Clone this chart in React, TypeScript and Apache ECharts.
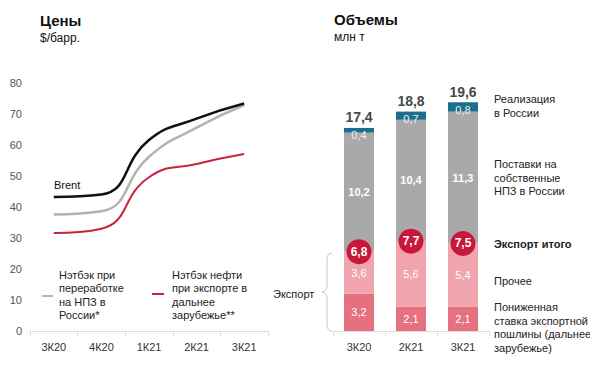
import React, { useEffect, useRef } from "react";
import * as echarts from "echarts";

const lineCategories = ["3К20", "4К20", "1К21", "2К21", "3К21"];
const brent = [43.2, 44.0, 61.6, 68.5, 73.4];
const netbackRefining = [37.6, 38.6, 56.2, 65.6, 72.9];
const netbackExport = [31.6, 33.0, 49.6, 53.9, 57.1];
const priceTicks = [0, 80, 10];

const barCategories = ["3К20", "2К21", "3К21"];
const reducedDuty = [3.2, 2.1, 2.1];
const otherExport = [3.6, 5.6, 5.4];
const ownRefineries = [10.2, 10.4, 11.3];
const domesticSales = [0.4, 0.7, 0.8];
const exportTotal = [6.8, 7.7, 7.5];
const volumeTotal = [17.4, 18.8, 19.6];

const FONT = "'Liberation Sans', Arial, sans-serif";
const fmt = (v: number) => v.toFixed(1).replace(".", ",");

let registered = false;
function registerBrace() {
  if (registered) return;
  registered = true;
  const d =
    "M10,0 C6,0 5,3 5,8 L5,32 C5,37 4,39 0,40 C4,41 5,43 5,48 L5,72 C5,77 6,80 10,80";
  echarts.graphic.registerShape("brace", echarts.graphic.extendPath(d, {}));
}

function txt(x: number, y: number, text: string, opts: any = {}) {
  return {
    type: "text",
    x,
    y,
    silent: true,
    style: {
      text,
      font: `${opts.bold ? "bold " : ""}${opts.size || 11}px ${FONT}`,
      fill: opts.color || "#222",
      lineHeight: opts.lh || 13.5,
      textAlign: opts.align || "left",
      textVerticalAlign: "top",
    },
  };
}

export default function App() {
  const ref = useRef<HTMLDivElement>(null);
  useEffect(() => {
    if (!ref.current) return;
    registerBrace();
    const chart = echarts.init(ref.current, null, { renderer: "svg" });
    const barLabel = (color: string, bold: boolean, pos: any = "inside", dist = 5) => ({
      show: true,
      position: pos,
      distance: dist,
      color,
      fontFamily: FONT,
      fontSize: 11,
      fontWeight: bold ? "bold" : "normal",
      formatter: (p: any) => fmt(p.value),
    });
    const option: any = {
      animation: false,
      textStyle: { fontFamily: FONT },
      grid: [
        { left: 30, top: 83, width: 238, height: 248 },
        { left: 333, top: 97.6, width: 156, height: 233.4 },
      ],
      xAxis: [
        {
          gridIndex: 0,
          type: "category",
          data: lineCategories,
          boundaryGap: true,
          axisLine: { lineStyle: { color: "#dddddd" } },
          axisTick: { show: true, lineStyle: { color: "#dddddd" } },
          axisLabel: { color: "#333", fontSize: 11, fontFamily: FONT, margin: 10 },
        },
        {
          gridIndex: 1,
          type: "category",
          data: barCategories,
          boundaryGap: true,
          axisLine: { lineStyle: { color: "#dddddd" } },
          axisTick: { show: true, lineStyle: { color: "#dddddd" } },
          axisLabel: { color: "#333", fontSize: 11, fontFamily: FONT, margin: 10 },
        },
      ],
      yAxis: [
        {
          gridIndex: 0,
          type: "value",
          min: priceTicks[0],
          max: priceTicks[1],
          interval: priceTicks[2],
          axisLine: { show: false },
          axisTick: { show: false },
          splitLine: { show: false },
          axisLabel: { color: "#555", fontSize: 11, fontFamily: FONT, margin: 8 },
        },
        {
          gridIndex: 1,
          type: "value",
          min: 0,
          max: 20,
          show: false,
          splitLine: { show: false },
        },
      ],
      series: [
        {
          type: "line",
          name: "Нэтбэк нефти при экспорте в дальнее зарубежье**",
          data: netbackExport,
          smooth: 0.5,
          symbol: "none",
          lineStyle: { color: "#c8233f", width: 2 },
        },
        {
          type: "line",
          name: "Нэтбэк при переработке на НПЗ в России*",
          data: netbackRefining,
          smooth: 0.5,
          symbol: "none",
          lineStyle: { color: "#b3b3b3", width: 2.5 },
        },
        {
          type: "line",
          name: "Brent",
          data: brent,
          smooth: 0.5,
          symbol: "none",
          lineStyle: { color: "#111111", width: 2.5 },
        },
        {
          type: "bar",
          name: "Пониженная ставка экспортной пошлины",
          xAxisIndex: 1,
          yAxisIndex: 1,
          stack: "v",
          barWidth: 30,
          data: reducedDuty,
          itemStyle: { color: "#e5717f" },
          label: barLabel("#ffffff", false),
        },
        {
          type: "bar",
          name: "Прочее",
          xAxisIndex: 1,
          yAxisIndex: 1,
          stack: "v",
          barWidth: 30,
          data: otherExport,
          itemStyle: { color: "#f0a4ae" },
          label: barLabel("#ffffff", false),
        },
        {
          type: "bar",
          name: "Поставки на собственные НПЗ в России",
          xAxisIndex: 1,
          yAxisIndex: 1,
          stack: "v",
          barWidth: 30,
          data: ownRefineries,
          itemStyle: { color: "#a9a9a9" },
          label: barLabel("#ffffff", true),
        },
        {
          type: "bar",
          name: "Реализация в России",
          xAxisIndex: 1,
          yAxisIndex: 1,
          stack: "v",
          barWidth: 30,
          data: domesticSales,
          itemStyle: { color: "#1b6e8e" },
          label: barLabel("#f2f2f2", false, "insideTop", 2),
        },
        {
          type: "scatter",
          name: "Экспорт итого",
          xAxisIndex: 1,
          yAxisIndex: 1,
          data: exportTotal,
          symbolSize: 25,
          z: 5,
          itemStyle: { color: "#c8173a", opacity: 1 },
          label: {
            show: true,
            position: "inside",
            color: "#fff",
            fontWeight: "bold",
            fontSize: 12,
            fontFamily: FONT,
            formatter: (p: any) => fmt(p.value),
          },
        },
        {
          type: "scatter",
          name: "Итого",
          xAxisIndex: 1,
          yAxisIndex: 1,
          data: volumeTotal,
          symbolSize: 1,
          itemStyle: { color: "transparent" },
          label: {
            show: true,
            position: "top",
            distance: 3,
            color: "#111",
            fontWeight: "bold",
            fontSize: 14,
            fontFamily: FONT,
            formatter: (p: any) => fmt(p.value),
          },
        },
      ],
      graphic: [
        txt(40, 14, "Цены", { bold: true, size: 15, color: "#111" }),
        txt(40, 31, "$/барр.", { size: 12, color: "#111" }),
        txt(334, 13, "Объемы", { bold: true, size: 15, color: "#111" }),
        txt(334, 30, "млн т", { size: 12, color: "#111" }),
        txt(54, 178, "Brent", { size: 11, color: "#111" }),
        {
          type: "line",
          silent: true,
          shape: { x1: 42, y1: 296, x2: 53, y2: 296 },
          style: { stroke: "#b3b3b3", lineWidth: 2 },
        },
        txt(59, 268.5, "Нэтбэк при\nпереработке\nна НПЗ в\nРоссии*", { lh: 13.3 }),
        {
          type: "line",
          silent: true,
          shape: { x1: 152, y1: 294, x2: 164, y2: 294 },
          style: { stroke: "#c8233f", lineWidth: 2 },
        },
        txt(172, 268.5, "Нэтбэк нефти\nпри экспорте в\nдальнее\nзарубежье**", { lh: 13.3 }),
        txt(273, 287, "Экспорт", {}),
        {
          type: "brace",
          x: 322,
          y: 253,
          scaleX: 1,
          scaleY: 78 / 80,
          silent: true,
          style: { stroke: "#c4c4c4", fill: "none", lineWidth: 1 },
        },
        txt(494, 92.3, "Реализация\nв России", {}),
        txt(494, 157.3, "Поставки на\nсобственные\nНПЗ в России", {}),
        txt(494, 237.5, "Экспорт итого", { bold: true }),
        txt(494, 274.5, "Прочее", {}),
        txt(494, 300.3, "Пониженная\nставка экспортной\nпошлины (дальнее\nзарубежье)", {}),
      ],
    };
    chart.setOption(option);
    return () => chart.dispose();
  }, []);
  return <div ref={ref} style={{ width: 590, height: 369, position: "absolute", left: 0, top: 0 }} />;
}
